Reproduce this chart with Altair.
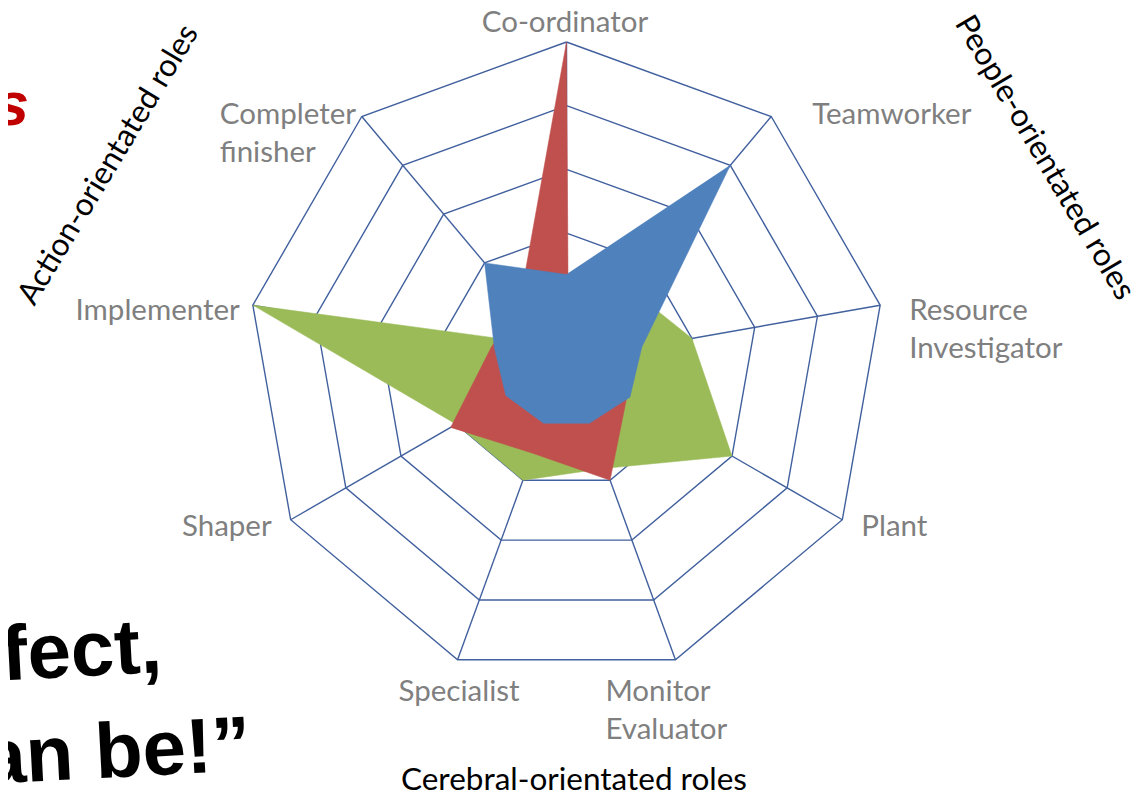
import math
import altair as alt
import pandas as pd

# ---------------- data ----------------
categories = ["Co-ordinator", "Teamworker", "Resource\nInvestigator", "Plant",
              "Monitor\nEvaluator", "Specialist", "Shaper", "Implementer",
              "Completer\nfinisher"]
red_scores = [5.0, 0.05, 0.9, 1.1, 2.0, 1.55, 2.1, 1.2, 1.15]
green_scores = [0.5, 1.5, 2.0, 3.0, 1.8, 2.0, 2.0, 5.0, 0.3]
blue_scores = [1.35, 4.0, 1.2, 1.15, 1.05, 1.05, 1.1, 1.15, 2.0]
ring_values = [1, 2, 3, 4, 5]
group_titles = ["Action-orientated roles", "People-orientated roles",
                "Cerebral-orientated roles"]
quote_lines = ["Nobody's perfect,", "but a team can be!\u201d"]
slide_title = "Belbin Team Roles"

# ---------------- layout / style ----------------
W, H = 1129, 784
CX, CY = 558.5, 352.5
PPU = 63.7
R_MAX = 5
x_scale = alt.Scale(domain=[-CX / PPU, (W - CX) / PPU], nice=False, zero=False)
y_scale = alt.Scale(domain=[-(H - CY) / PPU, CY / PPU], nice=False, zero=False)
GRID = "#41609e"
COLORS = {"green": "#9bbb59", "red": "#c0504d", "blue": "#4f81bd"}
LABEL_FONT = "Lato"
LABEL_SIZE = 29.5
TITLE_SIZE = 31.5
label_align = ["center", "left", "left", "left", "left", "center", "right", "right", "left"]
label_dx = [-1.5, 41, 29, 19, -70, 1.5, -19, -13, -142]
label_dy = [-19, -1.5, 6, 7, 32.5, 32, 7, 6, -1.5]

n = len(categories)


def polar(r, k):
    a = math.radians(360.0 / n * k)
    return r * math.sin(a), r * math.cos(a)


X = lambda f: alt.X(f, type="quantitative", scale=x_scale, axis=None)
Y = lambda f: alt.Y(f, type="quantitative", scale=y_scale, axis=None)

# grid rings
ring_rows = []
for lv in ring_values:
    for k in range(n + 1):
        u, v = polar(lv, k % n)
        ring_rows.append({"ring": lv, "k": k, "u": u, "v": v})
rings = alt.Chart(pd.DataFrame(ring_rows)).mark_line(
    stroke=GRID, strokeWidth=1.4
).encode(x=X("u"), y=Y("v"), detail="ring:N", order="k:Q")

# spokes
spoke_rows = []
for k in range(n):
    u, v = polar(R_MAX, k)
    spoke_rows.append({"x0": 0.0, "y0": 0.0, "u": u, "v": v})
spokes = alt.Chart(pd.DataFrame(spoke_rows)).mark_rule(
    stroke=GRID, strokeWidth=1.4
).encode(x=X("x0"), y=Y("y0"), x2="u:Q", y2="v:Q")

# series polygons
layers = [spokes, rings]
for name, vals in [("green", green_scores), ("red", red_scores), ("blue", blue_scores)]:
    rows = []
    for k in range(n + 1):
        u, v = polar(vals[k % n], k % n)
        rows.append({"k": k, "u": u, "v": v})
    layers.append(
        alt.Chart(pd.DataFrame(rows)).mark_line(
            fill=COLORS[name], stroke=COLORS[name], strokeWidth=0.5
        ).encode(x=X("u"), y=Y("v"), order="k:Q")
    )

# category labels
for i, cat in enumerate(categories):
    u, v = polar(R_MAX, i)
    layers.append(
        alt.Chart(pd.DataFrame([{"u": u, "v": v, "t": cat}])).mark_text(
            align=label_align[i], baseline="middle", dx=label_dx[i], dy=label_dy[i],
            font=LABEL_FONT, fontSize=LABEL_SIZE, color="#7f7f7f",
            lineBreak="\n", lineHeight=38
        ).encode(x=X("u"), y=Y("v"), text="t:N")
    )


def annotation(text, x, y, **kw):
    return alt.Chart(pd.DataFrame([{"t": text}])).mark_text(**kw).encode(
        x=alt.value(x), y=alt.value(y), text="t:N")


layers += [
    annotation(group_titles[0], 101, 157, angle=301, align="center", baseline="middle",
               font=LABEL_FONT, fontSize=TITLE_SIZE, color="black"),
    annotation(group_titles[1], 1036, 150, angle=59.5, align="center", baseline="middle",
               font=LABEL_FONT, fontSize=TITLE_SIZE, color="black"),
    annotation(group_titles[2], 566, 782, align="center", baseline="alphabetic",
               font=LABEL_FONT, fontSize=TITLE_SIZE, color="black"),
    annotation(quote_lines[0], 155, 664, angle=357, align="right", baseline="alphabetic",
               font="Liberation Sans", fontWeight="bold", fontSize=78, color="black"),
    annotation(quote_lines[1], 244, 762, angle=357, align="right", baseline="alphabetic",
               font="Liberation Sans", fontWeight="bold", fontSize=78, color="black"),
    annotation(slide_title, 21, 117, align="right", baseline="alphabetic",
               font="Liberation Sans", fontWeight="bold", fontStyle="italic", fontSize=62,
               color="#c00000"),
]

chart = alt.layer(*layers).properties(
    width=W, height=H, padding=0,
    autosize=alt.AutoSizeParams(type="none"),
).configure_view(stroke=None)

chart.save("out.html", embed_options={"renderer": "svg", "actions": False})
